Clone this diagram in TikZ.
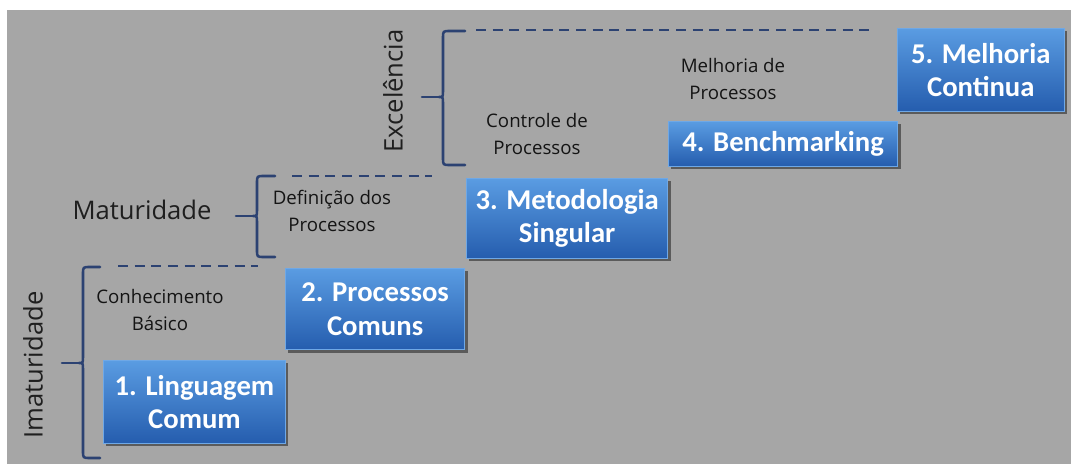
\documentclass[tikz,border=0pt]{standalone}
\usepackage{fontspec}
\setmainfont{Carlito}
\newfontfamily\lblfont{Open Sans}
\usetikzlibrary{shadows}

\definecolor{bggray}{HTML}{A6A6A6}
\definecolor{bracecol}{HTML}{2C4272}
\definecolor{boxtop}{HTML}{5A9CE2}
\definecolor{boxbot}{HTML}{255DAE}
\definecolor{boxedge}{HTML}{6FA8E6}

\tikzset{
  stepbox/.style={draw=boxedge, line width=0.7pt, top color=boxtop, bottom color=boxbot,
    text=white, font=\fontsize{21.5}{25}\selectfont\bfseries, align=center,
    inner sep=0pt, anchor=north west,
    drop shadow={shadow xshift=2.2pt, shadow yshift=-2.2pt, fill=black, opacity=0.45}},
  smalllbl/.style={font=\lblfont\fontsize{14}{20.5}\selectfont, text=black!92, align=center, inner sep=0pt},
  levellbl/.style={font=\lblfont\fontsize{19.2}{22}\selectfont, text=black!88, inner sep=0pt},
  bracestyle/.style={draw=bracecol, line width=1.9pt, line cap=round, line join=round},
  dashline/.style={draw=bracecol, line width=2.1pt, dash pattern=on 7.5pt off 5pt}
}

% curly brace: x, top, middle, bottom, right end of the hooks
\newcommand{\levelbrace}[5]{%
  \draw[bracestyle] (#5,#2) -- ({#1+7},#2) .. controls (#1,#2) .. (#1,{#2+7})
    -- (#1,{#3-6}) .. controls (#1,#3) .. ({#1-4},#3)
    .. controls (#1,#3) .. (#1,{#3+6}) -- (#1,{#4-7})
    .. controls (#1,#4) .. ({#1+7},#4) -- (#5,#4);
  \draw[bracestyle] ({#1-21},#3) -- ({#1-4},#3);}

\begin{document}
\begin{tikzpicture}[x=0.75pt,y=-0.75pt]
\useasboundingbox (0,0) rectangle (1071,464);
\fill[white] (0,0) rectangle (1071,464);
\fill[bggray] (7,10) rectangle (1071,464);

% level braces and dashed limits
\levelbrace{83}{267}{363}{458}{100}
\draw[dashline] (118,266) -- (258,266);
\levelbrace{257}{176}{216}{257}{275}
\draw[dashline] (292,176) -- (432,176);
\levelbrace{443}{31}{97}{165}{465}
\draw[dashline] (476,30) -- (872,30);

% level names
\node[levellbl, rotate=90] (imat) at (33,365) {Imaturidade};
\node[levellbl] (mat) at (142,210) {Maturidade};
\node[levellbl, rotate=90] (exc) at (393,91) {Excelência};

% stage descriptions
\node[smalllbl] (conh) at (160,310) {Conhecimento\\Básico};
\node[smalllbl] (defi) at (332,211) {Definição dos\\Processos};
\node[smalllbl] (ctrl) at (537,134) {Controle de\\Processos};
\node[smalllbl] (melh) at (733,79) {Melhoria de\\Processos};

% stages
\node[stepbox, minimum width=136.5pt, minimum height=62pt] (s1) at (103,360) {1. Linguagem\\Comum};
\node[stepbox, minimum width=134.5pt, minimum height=61pt] (s2) at (285,268) {2. Processos\\Comuns};
\node[stepbox, minimum width=151pt, minimum height=60pt] (s3) at (466,178) {3. Metodologia\\Singular};
\node[stepbox, minimum width=172pt, minimum height=33.5pt] (s4) at (668,121) {4. Benchmarking};
\node[stepbox, minimum width=125pt, minimum height=62pt] (s5) at (897,28) {5. Melhoria\\Continua};
\end{tikzpicture}
\end{document}
